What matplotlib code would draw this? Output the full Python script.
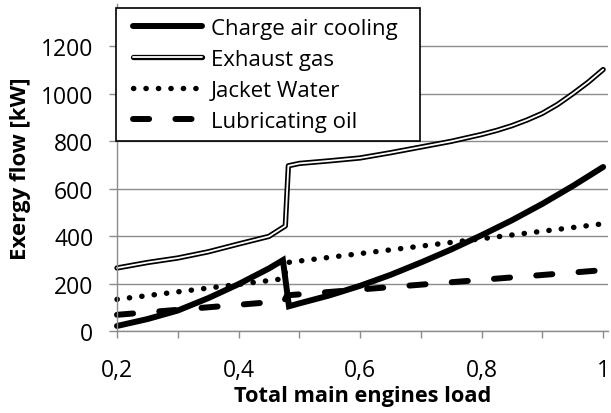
import matplotlib
matplotlib.use('Agg')
import matplotlib.pyplot as plt
import matplotlib.patheffects as pe
from matplotlib.patches import Rectangle

# Data (load fraction -> exergy flow in kW)
charge_x = [0.2, 0.25, 0.3, 0.35, 0.4, 0.45, 0.473, 0.483, 0.5, 0.55, 0.6, 0.65, 0.7, 0.75, 0.8, 0.85, 0.9, 0.95, 1.0]
charge_y = [23, 52, 88, 140, 199, 265, 300, 106, 118, 152, 192, 238, 290, 345, 405, 468, 537, 612, 692]

exhaust_x = [0.2, 0.25, 0.3, 0.35, 0.4, 0.45, 0.477, 0.482, 0.5, 0.55, 0.6, 0.65, 0.7, 0.75, 0.8,
             0.825, 0.85, 0.875, 0.9, 0.925, 0.95, 0.975, 1.0]
exhaust_y = [267, 290, 309, 335, 368, 400, 444, 697, 707, 718, 730, 752, 776, 800, 829,
             846, 866, 890, 918, 955, 1000, 1048, 1102]

jacket_x = [0.2, 0.475, 0.48, 1.0]
jacket_y = [135, 222, 290, 453]

lube_x = [0.2, 0.475, 0.48, 1.0]
lube_y = [70, 128, 152, 258]

labels = ['Charge air cooling', 'Exhaust gas', 'Jacket Water', 'Lubricating oil']
xticks = [0.2, 0.4, 0.6, 0.8, 1.0]
xtick_labels = ['0,2', '0,4', '0,6', '0,8', '1']
yticks = [0, 200, 400, 600, 800, 1000, 1200]

plt.rcParams['font.family'] = ['Open Sans', 'DejaVu Sans']

W, H = 611, 414
fig = plt.figure(figsize=(W / 100, H / 100), dpi=100)
ax = fig.add_axes([0.1915, 0.197, 0.8036, 0.791])

grey = '#8c8c8c'

ax.plot(charge_x, charge_y, color='black', lw=4.3, solid_capstyle='round',
        solid_joinstyle='miter', clip_on=False, label=labels[0])
ax.plot(exhaust_x, exhaust_y, color='white', lw=1.3, solid_capstyle='round', clip_on=False,
        path_effects=[pe.Stroke(linewidth=3.8, foreground='black', capstyle='round'), pe.Normal()],
        label=labels[1])
ax.plot(jacket_x, jacket_y, color='black', lw=3.9, linestyle=(0, (0.05, 2.25)),
        dash_capstyle='round', clip_on=False, label=labels[2])
ax.plot(lube_x, lube_y, color='black', lw=4.3, linestyle=(0, (2.7, 4.4)),
        dash_capstyle='round', clip_on=False, label=labels[3])

ax.set_xlim(0.2, 1.008)
ax.set_ylim(0, 1378)
ax.set_xticks(xticks)
ax.set_xticklabels(xtick_labels)
ax.set_xticks([0.3, 0.5, 0.7, 0.9], minor=True)
ax.set_yticks(yticks)

ax.grid(axis='y', color=grey, lw=1.0)
ax.set_axisbelow(True)
for s in ['top', 'right']:
    ax.spines[s].set_visible(False)
for s in ['left', 'bottom']:
    ax.spines[s].set_color(grey)
    ax.spines[s].set_linewidth(1.0)

ax.tick_params(axis='x', which='both', direction='out', length=5, width=1.0, color=grey,
               labelsize=16.5, pad=14)
ax.tick_params(axis='y', direction='out', length=6, width=1.0, color=grey,
               labelsize=16.5, pad=11)

ax.set_xlabel('Total main engines load', fontsize=15.7, fontweight='bold', labelpad=2)
ax.set_ylabel('Exergy flow [kW]', fontsize=16, fontweight='bold', labelpad=7)

# legend box drawn separately so the padding matches the original
box = Rectangle((116 / W, 1 - 142 / H), (420 - 116) / W, (142 - 9) / H, transform=fig.transFigure,
                facecolor='white', edgecolor='black', lw=1.2, zorder=4.9, clip_on=False)
ax.add_patch(box)
leg = ax.legend(loc='upper left', bbox_to_anchor=(133 / W, 1 - 19 / H), bbox_transform=fig.transFigure,
                borderaxespad=0, fontsize=16, handlelength=3.1, handletextpad=0.4,
                labelspacing=0.45, borderpad=0, frameon=False)

fig.savefig('out.png', dpi=100)
